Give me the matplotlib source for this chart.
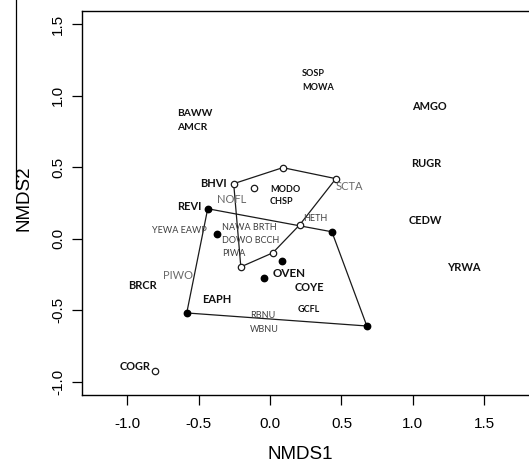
import matplotlib
matplotlib.use("Agg")
import matplotlib.pyplot as plt
from matplotlib.lines import Line2D

# --- data (NMDS scores) ---
open_x = [-0.255, 0.089, 0.461, -0.114, 0.208, 0.019, -0.205, -0.809]
open_y = [0.385, 0.497, 0.420, 0.357, 0.098, -0.098, -0.196, -0.924]
filled_x = [-0.437, 0.433, 0.678, -0.584, -0.374, 0.083, -0.043]
filled_y = [0.210, 0.049, -0.609, -0.518, 0.035, -0.154, -0.273]

# hull vertices (indices into the point lists)
open_hull = [0, 1, 2, 4, 5, 6, 0]
filled_hull = [0, 1, 2, 3, 0]

labels = ["BAWW", "AMCR", "SOSP", "MOWA", "AMGO", "RUGR", "CEDW", "YRWA",
          "BHVI", "NOFL", "MODO", "CHSP", "SCTA", "REVI", "HETH", "YEWA EAWP",
          "NAWA BRTH", "DOWO BCCH", "PIWA", "OVEN", "COYE", "BRCR", "PIWO",
          "EAPH", "GCFL", "RBNU", "WBNU", "COGR"]
label_x = [-0.654, -0.654, 0.222, 0.222, 0.994, 0.987, 0.973, 1.239,
           -0.304, -0.374, -0.001, -0.001, 0.461, -0.479, 0.230, -0.830,
           -0.339, -0.339, -0.339, 0.019, 0.174, -0.998, -0.752,
           -0.479, 0.195, -0.142, -0.142, -1.054]
label_y = [0.875, 0.777, 1.155, 1.057, 0.924, 0.525, 0.126, -0.203,
           0.385, 0.273, 0.343, 0.259, 0.364, 0.224, 0.140, 0.056,
           0.077, -0.014, -0.105, -0.245, -0.343, -0.329, -0.259,
           -0.427, -0.497, -0.539, -0.637, -0.889]

xticks = [-1.0, -0.5, 0.0, 0.5, 1.0, 1.5]
yticks = [-1.0, -0.5, 0.0, 0.5, 1.0, 1.5]

# --- styling per label ---
light_gray = {"NOFL", "SCTA", "PIWO"}
dark_gray = {"HETH", "YEWA EAWP", "NAWA BRTH", "DOWO BCCH", "PIWA", "RBNU", "WBNU"}
small_labels = {"SOSP", "MOWA", "MODO", "CHSP", "GCFL", "HETH", "YEWA EAWP",
                "NAWA BRTH", "DOWO BCCH", "PIWA", "RBNU", "WBNU"}
right_aligned = {"BHVI", "REVI"}

fig = plt.figure(figsize=(5.29, 4.65), dpi=100)
ax = fig.add_axes([81.7 / 529, 70 / 465, (545 - 81.7) / 529, 384 / 465])
ax.set_xlim(-1.32, -1 + (545 - 127.7) / 142.6)
ax.set_ylim(-1.091, 1.591)

for idx_list, xs, ys in [(open_hull, open_x, open_y), (filled_hull, filled_x, filled_y)]:
    ax.plot([xs[i] for i in idx_list], [ys[i] for i in idx_list],
            color="#1a1a1a", lw=0.9, zorder=2)

ax.plot(open_x, open_y, "o", ms=4.6, mfc="white", mec="#1a1a1a", mew=0.9, zorder=3)
ax.plot(filled_x, filled_y, "o", ms=4.6, mfc="black", mec="black", zorder=3)

for lab, lx, ly in zip(labels, label_x, label_y):
    if lab in light_gray:
        color, weight = "#6a6a6a", "normal"
    elif lab in dark_gray:
        color, weight = "#3f3f3f", "normal"
    else:
        color, weight = "#111111", "bold"
    size = 6.5 if lab in small_labels else 7.9
    if lab in light_gray:
        size = 8.0
    if lab in ("BAWW", "AMCR"):
        size = 7.4
    if lab == "OVEN":
        size = 8.4
    ha = "right" if lab in right_aligned else "left"
    ax.text(lx, ly, lab, ha=ha, va="center", fontsize=size, color=color,
            family="Lato", fontweight=weight, zorder=4)

ax.set_xticks(xticks)
ax.set_yticks(yticks)
ax.set_xticklabels([f"{v:.1f}" for v in xticks], family="Liberation Sans", fontsize=11)
ax.set_yticklabels([f"{v:.1f}" for v in yticks], family="Liberation Sans", fontsize=11,
                   rotation=90, va="center")
ax.tick_params(axis="x", length=7, width=0.9, pad=8.5, colors="black")
ax.tick_params(axis="y", length=7, width=0.9, pad=5, colors="black")
for s in ["left", "bottom", "top"]:
    ax.spines[s].set_linewidth(1.0)
ax.spines["right"].set_visible(False)

fig.text(300 / 529, 1 - 454 / 465, "NMDS1", ha="center", va="center",
         family="Liberation Sans", fontsize=13.5)
fig.text(24 / 529, 1 - 198 / 465, "NMDS2", ha="center", va="center", rotation=90,
         family="Liberation Sans", fontsize=13.5)
fig.add_artist(Line2D([16 / 529, 16 / 529], [1.0, 1 - 188 / 465],
                      transform=fig.transFigure, color="black", lw=0.9))

fig.savefig("out.png", dpi=100)
